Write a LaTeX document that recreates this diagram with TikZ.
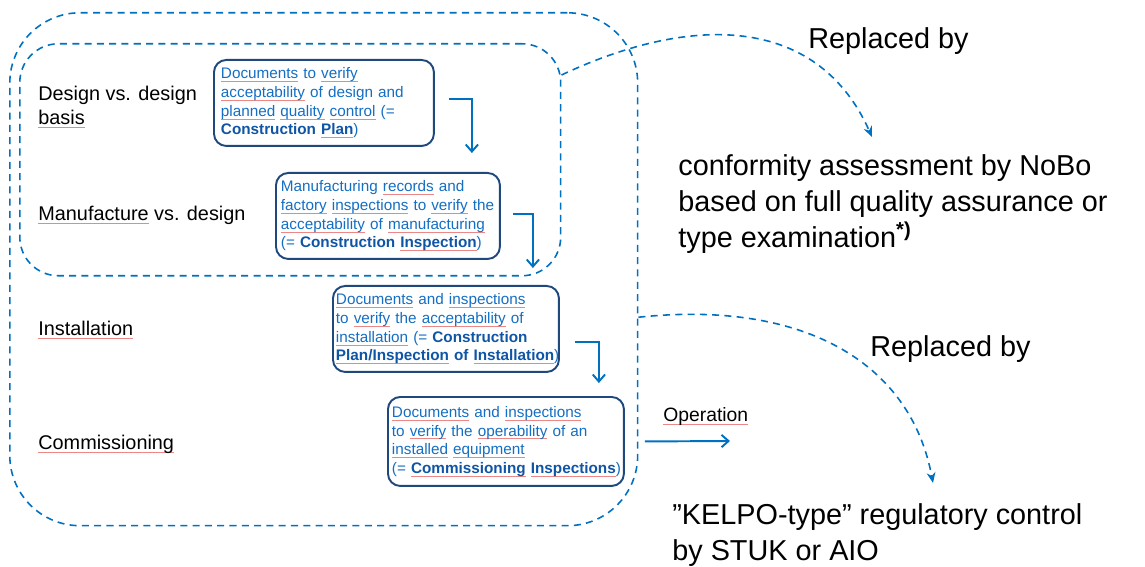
\documentclass[tikz,border=0pt]{standalone}
\usepackage{fontspec}
\setmainfont{Liberation Sans}
\usetikzlibrary{arrows.meta,calc}

\definecolor{dashblue}{RGB}{0,112,192}
\definecolor{boxline}{RGB}{31,73,125}
\definecolor{docblue}{RGB}{20,110,195}
\definecolor{darkdoc}{RGB}{15,85,165}
\definecolor{squig}{RGB}{235,135,135}

% red spell-check underline
\newsavebox{\splbox}
\newcommand{\spl}[1]{\leavevmode\sbox{\splbox}{#1}\rlap{\textcolor{squig}{\rule[-1.8pt]{\wd\splbox}{0.45pt}}}\usebox{\splbox}}

\begin{document}
\begin{tikzpicture}[x=0.02cm, y=-0.02cm,
    area/.style={draw=dashblue, line width=0.9pt, dash pattern=on 4pt off 3pt, anchor=north west},
    docbox/.style={draw=boxline, line width=1.1pt, rounded corners=7pt, anchor=north west,
        text=docblue, align=left, font=\fontsize{8.7}{10.6}\selectfont, inner ysep=2pt},
    stage/.style={anchor=west, inner sep=0pt, align=left, font=\fontsize{11.3}{13.6}\selectfont},
    big/.style={anchor=west, inner sep=0pt, align=left, font=\fontsize{16.4}{20.4}\selectfont},
    flow/.style={draw=dashblue, line width=1.1pt, -{Straight Barb[length=4pt,width=7pt]}},
    link/.style={draw=dashblue, line width=0.9pt, dash pattern=on 4pt off 3pt, -{Stealth[length=6pt,width=5pt]}}]

    \useasboundingbox (0,0) rectangle (1145,567);

    % Rahmen
    \node[area, rounded corners=40pt, minimum width=12.56cm, minimum height=10.26cm] (outer) at (9,12) {};
    \node[area, rounded corners=22pt, minimum width=10.82cm, minimum height=4.64cm] (inner) at (19,43) {};

    % Phasen
    \node[stage] (design) at (38,107) {Design vs. design\\\spl{basis}};
    \node[stage] (manuf) at (38,215) {\spl{Manufacture} vs. design};
    \node[stage] (inst) at (38,330) {\spl{Installation}};
    \node[stage] (comm) at (38,444) {\spl{Commissioning}};

    % Dokumente
    \node[docbox, text width=4.12cm, inner xsep=0.14cm, minimum height=1.72cm] (doc1) at (213,59)
        {\spl{Documents} to \spl{verify}\\
         \spl{acceptability} of design and\\
         \spl{planned} \spl{quality} \spl{control} (=\\
         {\color{darkdoc}\bfseries Construction \spl{Plan}})};
    \node[docbox, text width=4.28cm, inner xsep=0.1cm, minimum height=1.72cm] (doc2) at (275,172)
        {Manufacturing \spl{records} and\\
         \mbox{\spl{factory} \spl{inspections} to \spl{verify} the}\\
         \spl{acceptability} of \spl{manufacturing}\\
         \mbox{(= {\color{darkdoc}\bfseries Construction \spl{Inspection}})}};
    \node[docbox, text width=4.4cm, inner xsep=0.06cm, minimum height=1.72cm] (doc3) at (332,285)
        {\spl{Documents} and \spl{inspections}\\
         to \spl{verify} the \spl{acceptability} of\\
         \mbox{\spl{installation} (= {\color{darkdoc}\bfseries Construction}}\\
         \mbox{{\color{darkdoc}\bfseries \spl{Plan/Inspection} of \spl{Installation}})}};
    \node[docbox, text width=4.56cm, inner xsep=0.08cm, minimum height=1.78cm] (doc4) at (387,396)
        {\spl{Documents} and \spl{inspections}\\
         to \spl{verify} the \spl{operability} of an\\
         \spl{installed} \spl{equipment}\\
         \mbox{(= {\color{darkdoc}\bfseries \spl{Commissioning} \spl{Inspections}})}};

    % Pfeile
    \draw[flow] ($(doc1.east)+(14,-4)$) -| ($(doc2.north east)+(-29,-19)$);
    \draw[flow] ($(doc2.east)+(12,-2)$) -| ($(doc3.north east)+(-27,-17)$);
    \draw[flow] ($(doc3.east)+(15,13)$) -| ($(doc4.north east)+(-26,-13)$);

    \coordinate (opend) at (730,441);
    \draw[flow] ($(doc4.east)+(20,0)$) -- (opend);
    \node[stage, font=\fontsize{11}{13}\selectfont] (op) at (663,417) {\spl{Operation}};

    % Ersetzt durch
    \node[big] (repl1) at (808,41) {Replaced by};
    \node[big] (conf) at (678,204)
        {conformity assessment by NoBo\\based on full quality assurance or\\type examination\textsuperscript{\bfseries *)}};
    \node[big] (repl2) at (870,349) {Replaced by};
    \node[big] (kelpo) at (672,535) {”KELPO-type” regulatory control\\by STUK or AIO};

    \coordinate (tip1) at (872,137);
    \coordinate (tip2) at (933,483);
    \draw[link] ($(inner.north east)+(0,32)$) .. controls (700,10) and (820,20) .. (tip1);
    \draw[link] ($(outer.east)+(0,48)$) .. controls (800,300) and (910,360) .. (tip2);

\end{tikzpicture}
\end{document}
